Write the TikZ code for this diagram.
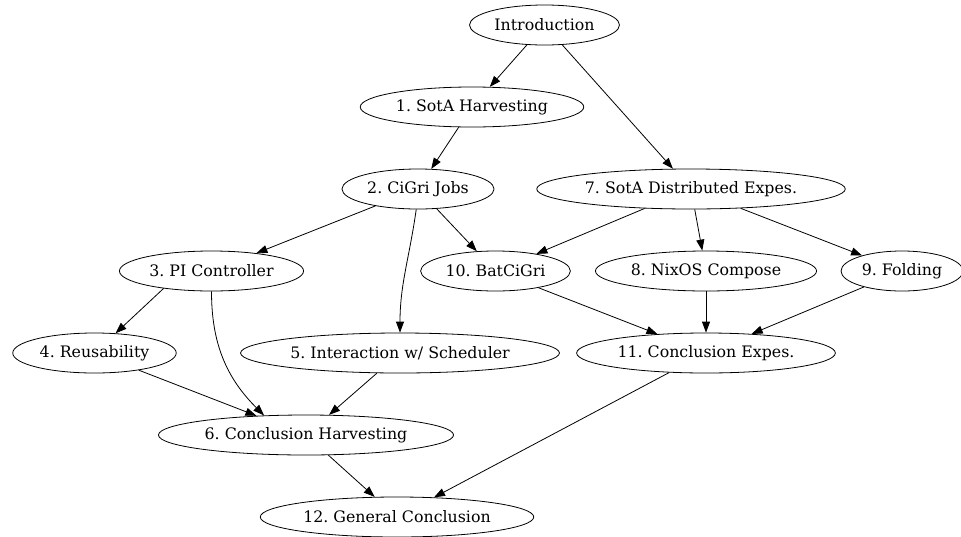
\documentclass[tikz,border=0pt]{standalone}
\usepackage{fontspec}
\setmainfont{DejaVu Serif}
\usetikzlibrary{arrows.meta,shapes.geometric}
\frenchspacing
\begin{document}
\begin{tikzpicture}[x=1pt, y=-1pt,
  chapter/.style={draw, ellipse, line width=0.8pt, inner xsep=3pt, inner ysep=0pt,
    minimum height=40pt, font=\fontsize{15.8}{19}\selectfont},
  dep/.style={-{Triangle[length=11pt, width=8pt]}, line width=0.8pt}]
\useasboundingbox (0,0) rectangle (961,536);
\node[chapter] (intro) at (544.5, 25) {Introduction};
\node[chapter] (sotaharv) at (472, 107) {1. SotA Harvesting};
\node[chapter] (cigri) at (418, 189) {2. CiGri Jobs};
\node[chapter] (sotadist) at (691, 189) {7. SotA Distributed Expes.};
\node[chapter] (pi) at (211.5, 271) {3. PI Controller};
\node[chapter] (batcigri) at (495.5, 271) {10. BatCiGri};
\node[chapter] (nixos) at (706, 271) {8. NixOS Compose};
\node[chapter] (folding) at (902, 271) {9. Folding};
\node[chapter] (reuse) at (94.5, 353) {4. Reusability};
\node[chapter] (sched) at (400, 353) {5. Interaction w/ Scheduler};
\node[chapter] (concexp) at (706, 353) {11. Conclusion Expes.};
\node[chapter] (concharv) at (306, 435) {6. Conclusion Harvesting};
\node[chapter] (general) at (397, 517) {12. General Conclusion};
\draw[dep] (intro) -- (sotaharv);
\draw[dep] (intro) -- (sotadist);
\draw[dep] (sotaharv) -- (cigri);
\draw[dep] (cigri) -- (pi);
\draw[dep] (cigri) -- (batcigri);
\draw[dep] (cigri.-95) to[out=-98, in=90] (sched.north);
\draw[dep] (sotadist) -- (batcigri);
\draw[dep] (sotadist) -- (nixos);
\draw[dep] (sotadist) -- (folding);
\draw[dep] (pi.-160) -- (reuse);
\draw[dep] (pi.south) to[out=-90, in=135] (concharv.155);
\draw[dep] (reuse) -- (concharv);
\draw[dep] (sched) -- (concharv);
\draw[dep] (batcigri) -- (concexp);
\draw[dep] (nixos) -- (concexp);
\draw[dep] (folding) -- (concexp);
\draw[dep] (concharv) -- (general);
\draw[dep] (concexp) -- (general);
\end{tikzpicture}
\end{document}
